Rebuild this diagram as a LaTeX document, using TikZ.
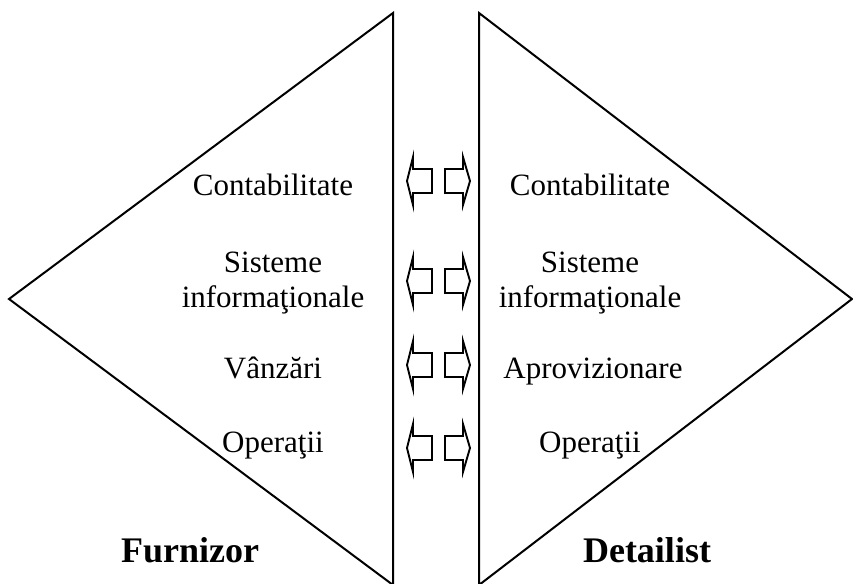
\documentclass[tikz,border=0pt]{standalone}
\usepackage{fontspec}
\setmainfont{Liberation Serif}
\begin{document}
\begin{tikzpicture}[x=1pt,y=-1pt,line join=miter,
  edge/.style={line width=2pt},
  flow/.style={line width=1.9pt},
  lbl/.style={anchor=base,inner sep=0pt,font=\fontsize{31}{36}\selectfont},
  heading/.style={anchor=base,inner sep=0pt,font=\fontsize{36}{40}\selectfont\bfseries}]
\useasboundingbox (0,0) rectangle (853,583);

% two triangles facing each other
\coordinate (ltop) at (393,13);
\coordinate (lleft) at (9,299);
\coordinate (lbot) at (393,585);
\coordinate (rtop) at (479,13);
\coordinate (rright) at (852,299);
\coordinate (rbot) at (479,585);
\draw[edge] (ltop) -- (lleft) -- (lbot) -- cycle;
\draw[edge] (rtop) -- (rright) -- (rbot) -- cycle;

% left column
\node[lbl] (lacc) at (273,195) {Contabilitate};
\node[lbl] (lsys1) at (273,272) {Sisteme};
\node[lbl] (lsys2) at (273,307) {informaţionale};
\node[lbl] (lsale) at (273,378) {Vânzări};
\node[lbl] (lops) at (273,452) {Operaţii};
\node[heading] (lname) at (190,562) {Furnizor};

% right column
\node[lbl] (racc) at (590,195) {Contabilitate};
\node[lbl] (rsys1) at (590,272) {Sisteme};
\node[lbl] (rsys2) at (590,307) {informaţionale};
\node[lbl] (rsup) at (593,378) {Aprovizionare};
\node[lbl] (rops) at (590,452) {Operaţii};
\node[heading] (rname) at (647,562) {Detailist};

% hollow exchange arrows between the two sides
\foreach \y in {181,281,365,448}{
  \draw[flow] (432,\y-12) -- (413,\y-12) -- (413,\y-24) -- (407,\y)
    -- (413,\y+24) -- (413,\y+12) -- (432,\y+12) -- cycle;
  \draw[flow] (445,\y-12) -- (463,\y-12) -- (463,\y-24) -- (470,\y)
    -- (463,\y+24) -- (463,\y+12) -- (445,\y+12) -- cycle;
}
\end{tikzpicture}
\end{document}
